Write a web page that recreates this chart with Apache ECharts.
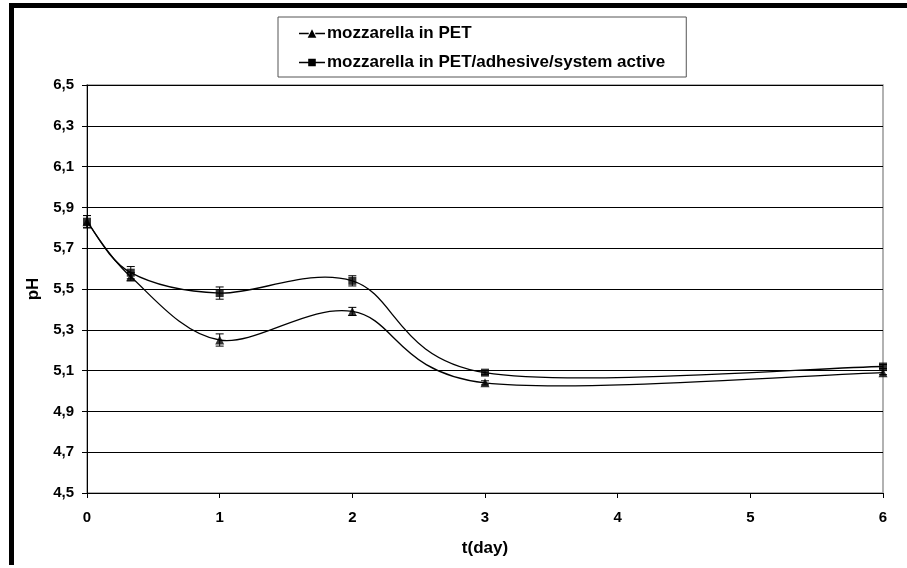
<!DOCTYPE html>
<html>
<head>
<meta charset="utf-8">
<script src="https://cdn.jsdelivr.net/npm/echarts@6/dist/echarts.min.js"></script>
<style>
  html, body { margin: 0; padding: 0; background: #fff; }
  .wrap { position: relative; width: 907px; height: 568px; }
  #chart { width: 907px; height: 568px; }
  .frame-top { position: absolute; left: 9px; top: 3px; width: 898px; height: 5px; background: #000; }
  .frame-left { position: absolute; left: 9px; top: 3px; width: 5px; height: 562px; background: #000; }
</style>
</head>
<body>
<div class="wrap">
  <div id="chart"></div>
  <div class="frame-top"></div>
  <div class="frame-left"></div>
</div>
<script>
// sampling days
const days = [0, 0.33, 1, 2, 3, 6];
// pH, mozzarella in PET
const phPet = [5.83, 5.56, 5.25, 5.39, 5.04, 5.09];
const errPet = [0.03, 0.02, 0.03, 0.02, 0.01, 0.01];
// pH, mozzarella in PET/adhesive/system active
const phActive = [5.83, 5.58, 5.48, 5.54, 5.09, 5.12];
const errActive = [0.03, 0.03, 0.03, 0.025, 0.01, 0.01];

const namePet = 'mozzarella in PET';
const nameActive = 'mozzarella in PET/adhesive/system active';

const chart = echarts.init(document.getElementById('chart'));

function pts(ys) {
  return days.map((d, i) => [d, ys[i]]);
}

// Excel-like smoothed line: one bezier segment per data item
function curveSeries(name, ys) {
  const data = pts(ys);
  return {
    name: name,
    type: 'custom',
    silent: true,
    z: 3,
    renderItem(params, api) {
      const i = params.dataIndex;
      if (i >= data.length - 1) return null;
      const p = (k) => api.coord(data[Math.max(0, Math.min(data.length - 1, k))]);
      const p0 = p(i - 1);
      const p1 = p(i);
      const p2 = p(i + 1);
      const p3 = p(i + 2);
      return {
        type: 'bezierCurve',
        shape: {
          x1: p1[0], y1: p1[1],
          x2: p2[0], y2: p2[1],
          cpx1: p1[0] + (p2[0] - p0[0]) / 6,
          cpy1: p1[1] + (p2[1] - p0[1]) / 6,
          cpx2: p2[0] - (p3[0] - p1[0]) / 6,
          cpy2: p2[1] - (p3[1] - p1[1]) / 6,
        },
        style: { stroke: '#000', lineWidth: 1.3, fill: null },
      };
    },
    data: data,
  };
}

function errorSeries(name, ys, errs) {
  return {
    name: name,
    type: 'custom',
    silent: true,
    z: 4,
    renderItem(params, api) {
      const x = api.value(0);
      const y = api.value(1);
      const e = api.value(2);
      const top = api.coord([x, y + e]);
      const bot = api.coord([x, y - e]);
      const w = 4;
      const st = { stroke: '#000', lineWidth: 1 };
      return {
        type: 'group',
        children: [
          { type: 'line', shape: { x1: top[0], y1: top[1], x2: bot[0], y2: bot[1] }, style: st },
          { type: 'line', shape: { x1: top[0] - w, y1: top[1], x2: top[0] + w, y2: top[1] }, style: st },
          { type: 'line', shape: { x1: bot[0] - w, y1: bot[1], x2: bot[0] + w, y2: bot[1] }, style: st },
        ],
      };
    },
    data: days.map((d, i) => [d, ys[i], errs[i]]),
  };
}

const iconTri = 'path://M0,4.4 L9,4.4 L9,5.6 L0,5.6 Z M8,9 L12,1 L16,9 Z M15,4.4 L24,4.4 L24,5.6 L15,5.6 Z';
const iconSq = 'path://M0,4.4 L9,4.4 L9,5.6 L0,5.6 Z M8.5,1.5 L15.5,1.5 L15.5,8.5 L8.5,8.5 Z M15,4.4 L24,4.4 L24,5.6 L15,5.6 Z';

const labelFont = {
  fontFamily: 'Liberation Sans, Arial, sans-serif',
  fontWeight: 'bold',
  color: '#000',
};

const option = {
  animation: false,
  backgroundColor: '#fff',
  color: ['#000'],
  legend: {
    orient: 'vertical',
    left: 278,
    top: 17,
    padding: [8, 21, 6, 21],
    itemGap: 12,
    itemWidth: 26,
    itemHeight: 9,
    borderColor: '#555',
    borderWidth: 1,
    itemStyle: { color: '#000' },
    textStyle: Object.assign({ fontSize: 17, padding: [0, 0, 0, -3] }, labelFont),
    data: [
      { name: namePet, icon: iconTri },
      { name: nameActive, icon: iconSq },
    ],
    selectedMode: false,
  },
  grid: {
    left: 87,
    right: 24,
    top: 85,
    bottom: 75,
    show: true,
    borderColor: '#999',
    borderWidth: 1.5,
  },
  xAxis: {
    type: 'value',
    min: 0,
    max: 6,
    interval: 1,
    name: 't(day)',
    nameLocation: 'middle',
    nameGap: 47,
    nameTextStyle: Object.assign({ fontSize: 17 }, labelFont),
    axisLine: { lineStyle: { color: '#000', width: 1 } },
    axisTick: { show: true, length: 5, inside: false, lineStyle: { color: '#000' } },
    axisLabel: Object.assign({ fontSize: 15, margin: 17 }, labelFont),
    splitLine: { show: false },
  },
  yAxis: {
    type: 'value',
    min: 4.5,
    max: 6.5,
    interval: 0.2,
    name: 'pH',
    nameLocation: 'middle',
    nameRotate: 90,
    nameGap: 44,
    nameTextStyle: Object.assign({ fontSize: 17 }, labelFont),
    axisLine: { show: true, lineStyle: { color: '#000', width: 1 } },
    axisTick: { show: true, length: 5, inside: false, lineStyle: { color: '#000' } },
    axisLabel: Object.assign({
      fontSize: 15,
      margin: 13,
      formatter(v) { return v.toFixed(1).replace('.', ','); },
    }, labelFont),
    splitLine: { show: true, lineStyle: { color: '#000', width: 1 } },
  },
  series: [
    curveSeries(namePet, phPet),
    curveSeries(nameActive, phActive),
    errorSeries(namePet, phPet, errPet),
    errorSeries(nameActive, phActive, errActive),
    {
      name: namePet,
      type: 'scatter',
      symbol: 'triangle',
      symbolSize: [9, 9],
      itemStyle: { color: '#000' },
      z: 5,
      data: pts(phPet),
    },
    {
      name: nameActive,
      type: 'scatter',
      symbol: 'rect',
      symbolSize: 8,
      itemStyle: { color: '#000' },
      z: 5,
      data: pts(phActive),
    },
  ],
};

chart.setOption(option);
</script>
</body>
</html>
